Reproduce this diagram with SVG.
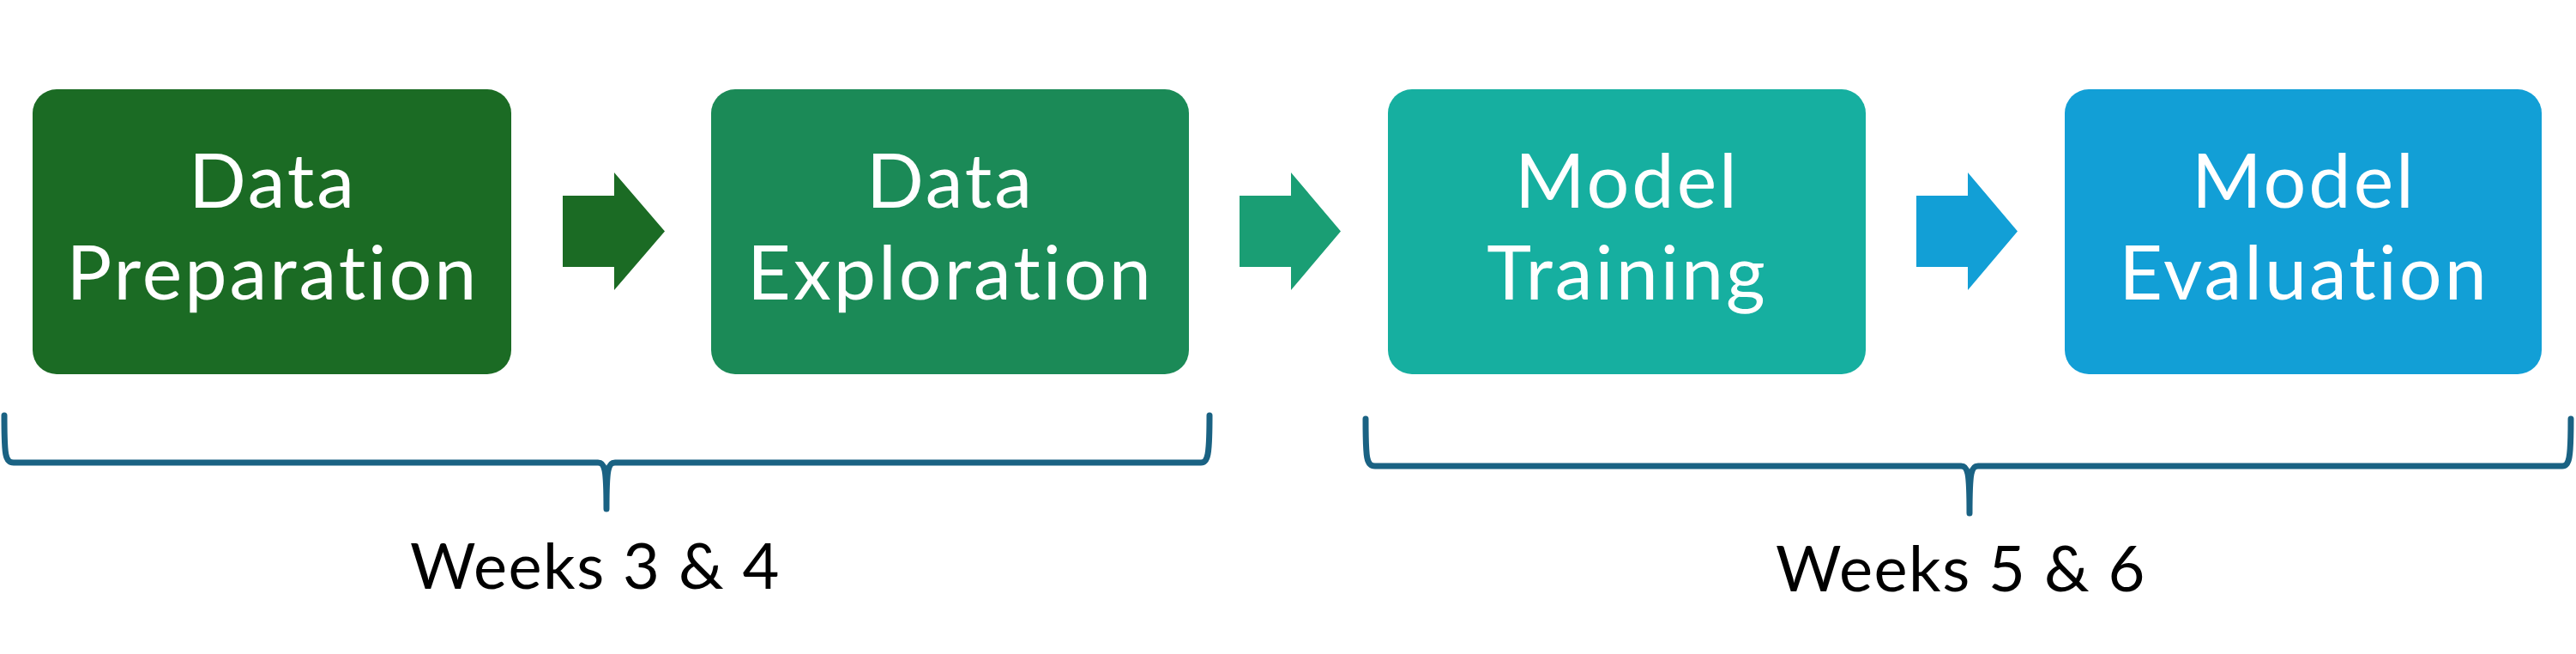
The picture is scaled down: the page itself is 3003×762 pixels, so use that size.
<svg xmlns="http://www.w3.org/2000/svg" width="3003" height="762" viewBox="0 0 3003 762">
<style>
.box text{font-family:Lato,"Open Sans",sans-serif;font-size:88px;letter-spacing:3px;fill:#ffffff;text-anchor:middle}
.brace{fill:none;stroke:#1A6283;stroke-width:7;stroke-linecap:round;stroke-linejoin:round}
.label{font-family:Lato,"Open Sans",sans-serif;font-size:74px;letter-spacing:1.5px;fill:#000000;text-anchor:middle}
</style>
<rect width="3003" height="762" fill="#ffffff"/>
<g id="node-data-preparation" class="box">
<rect x="38" y="104" width="558" height="332" rx="28" fill="#1B6B24"/>
<text x="318" y="242">Data</text>
<text x="318" y="349">Preparation</text>
</g>
<g id="node-data-exploration" class="box">
<rect x="829" y="104" width="557" height="332" rx="28" fill="#1B8A57"/>
<text x="1108" y="242">Data</text>
<text x="1108" y="349">Exploration</text>
</g>
<g id="node-model-training" class="box">
<rect x="1618" y="104" width="557" height="332" rx="28" fill="#16AFA0"/>
<text x="1897" y="242">Model</text>
<text x="1897" y="349">Training</text>
</g>
<g id="node-model-evaluation" class="box">
<rect x="2407" y="104" width="556" height="332" rx="28" fill="#129FD6"/>
<text x="2686" y="242">Model</text>
<text x="2686" y="349">Evaluation</text>
</g>
<g id="connectors">
<polygon points="656,228 716,228 716,201 775,269.5 716,338 716,311 656,311" fill="#1B6B24"/>
<polygon points="1445,228 1505,228 1505,201 1563,269.5 1505,338 1505,311 1445,311" fill="#1A9E74"/>
<polygon points="2234,228 2294,228 2294,201 2352,269.5 2294,338 2294,311 2234,311" fill="#129FD6"/>
</g>
<g id="brace-weeks-3-4">
<path class="brace" d="M5,484 C5,531 6,539 16,539 L697,539 C705,539 707,545 707,593 C707,545 709,539 717,539 L1400,539 C1408,539 1410,531 1410,484"/>
<text class="label" x="694" y="686">Weeks 3 &amp; 4</text>
</g>
<g id="brace-weeks-5-6">
<path class="brace" d="M1592,488 C1592,535 1593,543 1603,543 L2286,543 C2294,543 2296,549 2296,598 C2296,549 2298,543 2306,543 L2987,543 C2995,543 2997,535 2997,488"/>
<text class="label" x="2286" y="689">Weeks 5 &amp; 6</text>
</g>
</svg>
